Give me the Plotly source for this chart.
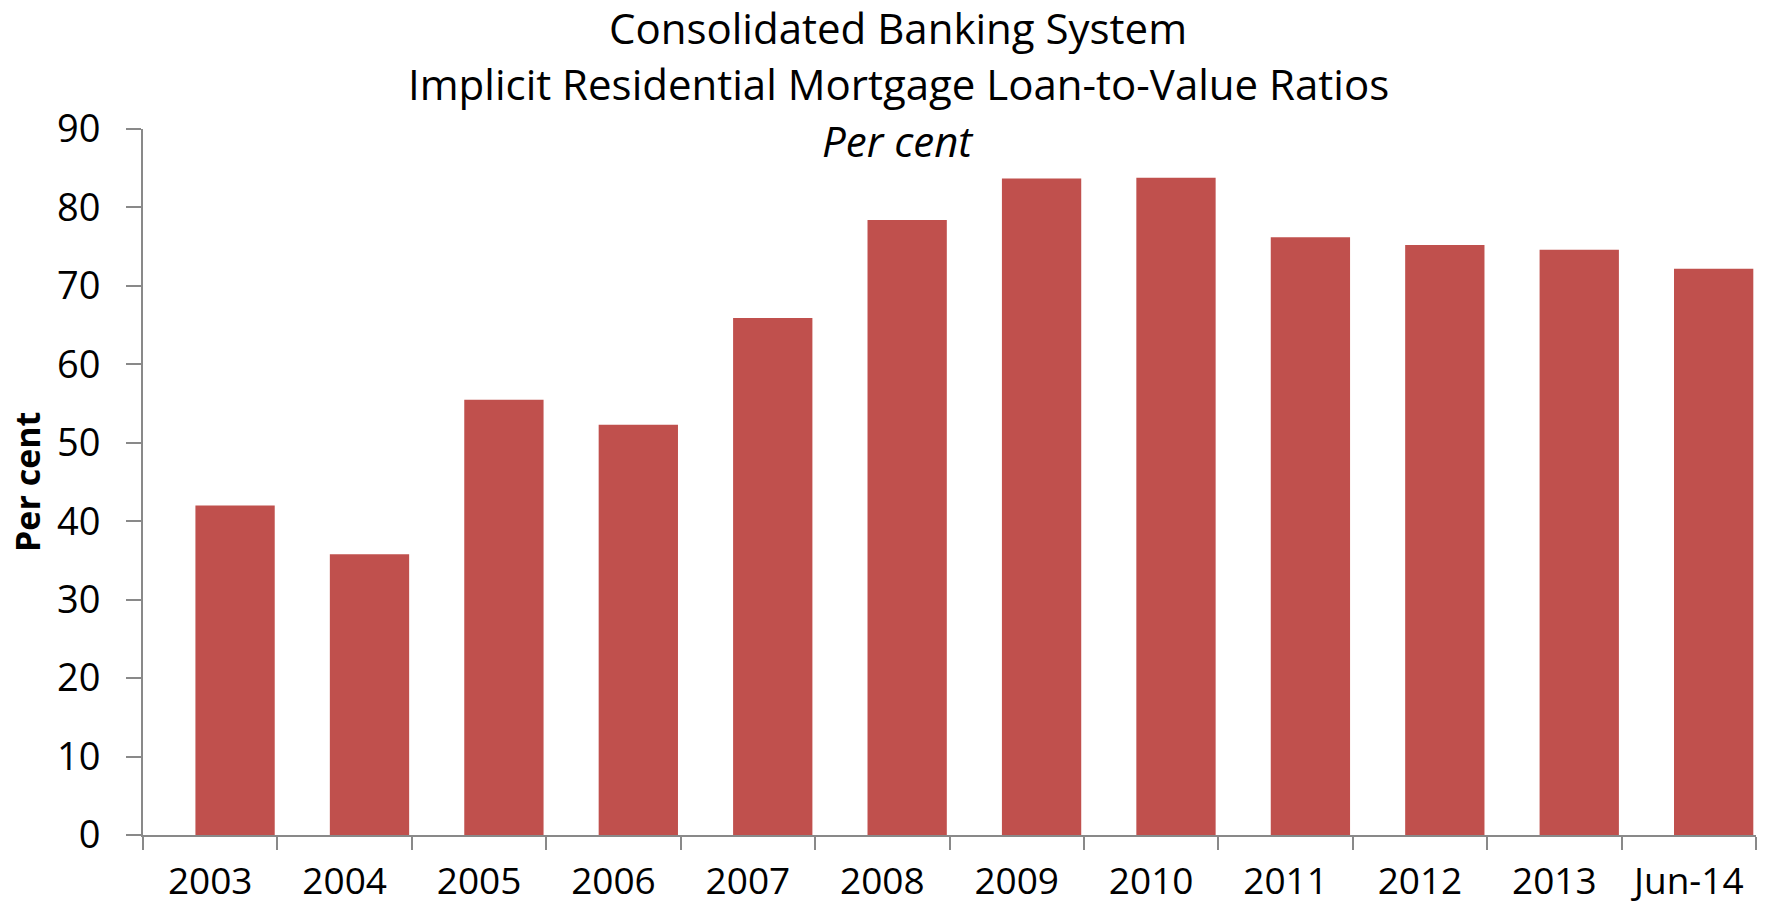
import plotly.graph_objects as go

categories = ["2003", "2004", "2005", "2006", "2007", "2008", "2009", "2010", "2011", "2012", "2013", "Jun-14"]
ltv_values = [42.0, 35.8, 55.5, 52.3, 65.9, 78.4, 83.7, 83.8, 76.2, 75.2, 74.6, 72.2]
y_ticks = [0, 10, 20, 30, 40, 50, 60, 70, 80, 90]

FONT = "Open Sans"
AXIS_COL = "#898989"

L, R, T, B = 143, 10, 129, 74
W, H = 1766, 909
PW, PH = W - L - R, H - T - B

fig = go.Figure()
fig.add_trace(go.Bar(
    x=categories, y=ltv_values,
    marker=dict(color="#C0504D", line=dict(width=0)),
    width=0.59, offset=-0.11,
))

fig.update_layout(
    width=W, height=H,
    margin=dict(l=L, r=R, t=T, b=B),
    plot_bgcolor="white", paper_bgcolor="white",
    showlegend=False,
    font=dict(family=FONT, color="black"),
)
fig.update_yaxes(
    range=[0, 90], tickvals=y_ticks, showgrid=False, zeroline=False, automargin=False,
    showline=True, linecolor=AXIS_COL, linewidth=2,
    ticks="outside", ticklen=15, tickwidth=2, tickcolor=AXIS_COL,
    tickfont=dict(size=38, family=FONT), ticklabelstandoff=18,
)
fig.update_xaxes(
    type="category", showgrid=False, automargin=False,
    showline=True, linecolor=AXIS_COL, linewidth=2,
    ticks="outside", tickson="boundaries", ticklen=13, tickwidth=2, tickcolor=AXIS_COL,
    tickfont=dict(size=37, family=FONT), ticklabelstandoff=13,
)

# y-axis title
fig.add_annotation(
    text="<b>Per cent</b>", xref="paper", yref="paper",
    x=(27 - L) / PW, y=(H - B - 482) / PH, textangle=-90,
    xanchor="center", yanchor="middle", showarrow=False,
    font=dict(size=34, family=FONT, color="black"),
)

titles = [
    ("Consolidated Banking System", 27),
    ("Implicit Residential Mortgage Loan-to-Value Ratios", 84),
    ("<i>Per cent</i>", 141),
]
for text, py in titles:
    fig.add_annotation(
        text=text, xref="paper", yref="paper", x=(898 - L) / PW,
        y=(H - B - py) / PH, xanchor="center", yanchor="middle", showarrow=False,
        font=dict(size=42, family=FONT, color="black"),
    )

fig.write_html("out.html", config={"displayModeBar": False},
               post_script="document.body.style.margin='0';")
